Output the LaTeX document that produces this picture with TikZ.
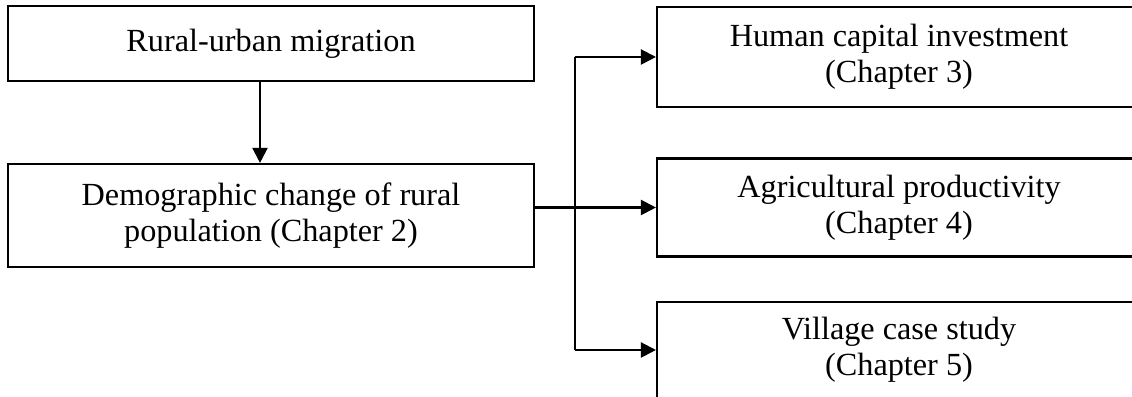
\documentclass[tikz,border=0pt]{standalone}
\usepackage{fontspec}
\setmainfont{Liberation Serif}
\usetikzlibrary{arrows.meta,positioning}
\newcommand*{\PxUnit}{0.3846pt}
\tikzset{
  chapbox/.style={draw=black, line width=.8pt, align=center, inner sep=0pt,
    font=\fontsize{12.4}{13.8}\selectfont},
  flowarrow/.style={line width=.8pt, -{Triangle[length=5.8pt,width=5.8pt]}}
}
\newcommand*{\ChapterBoxes}[1]{% #1 = list of name/y/height/topic/chapter
  \foreach \boxname/\boxy/\boxh/\topic/\chap in {#1} {
    \node [chapbox, minimum width=484*\PxUnit, minimum height=\boxh*\PxUnit]
      (\boxname) at (899,\boxy) {\topic\\(Chapter \chap)};
    }%
}

\begin{document}
\begin{tikzpicture}[x=\PxUnit, y=-\PxUnit]
    \useasboundingbox (0,0) rectangle (1132,397);
    \clip (0,0) rectangle (1132,397);

    % left column
    \node [chapbox, minimum width=526*\PxUnit, minimum height=75*\PxUnit]
      (mig) at (271,43.5) {Rural-urban migration};
    \node [chapbox, minimum width=526*\PxUnit, minimum height=103*\PxUnit]
      (demo) at (271,215.5) {Demographic change of rural\\population (Chapter 2)};

    % right column
    \ChapterBoxes{
        hci/57/100/Human capital investment/3,
        agri/207.5/98/Agricultural productivity/4,
        vill/350/96/Village case study/5}

    \coordinate (drop) at (260,0);
    \coordinate (trunk) at (575,0);

    \draw [flowarrow] (drop |- mig.south) -- (drop |- demo.north);
    \draw [line width=.8pt] (trunk |- hci.west) -- (trunk |- vill.west);
    \draw [flowarrow] (demo.east |- agri.west) -- (agri.west);
    \draw [flowarrow] (trunk |- hci.west) -- (hci.west);
    \draw [flowarrow] (trunk |- vill.west) -- (vill.west);
\end{tikzpicture}
\end{document}
